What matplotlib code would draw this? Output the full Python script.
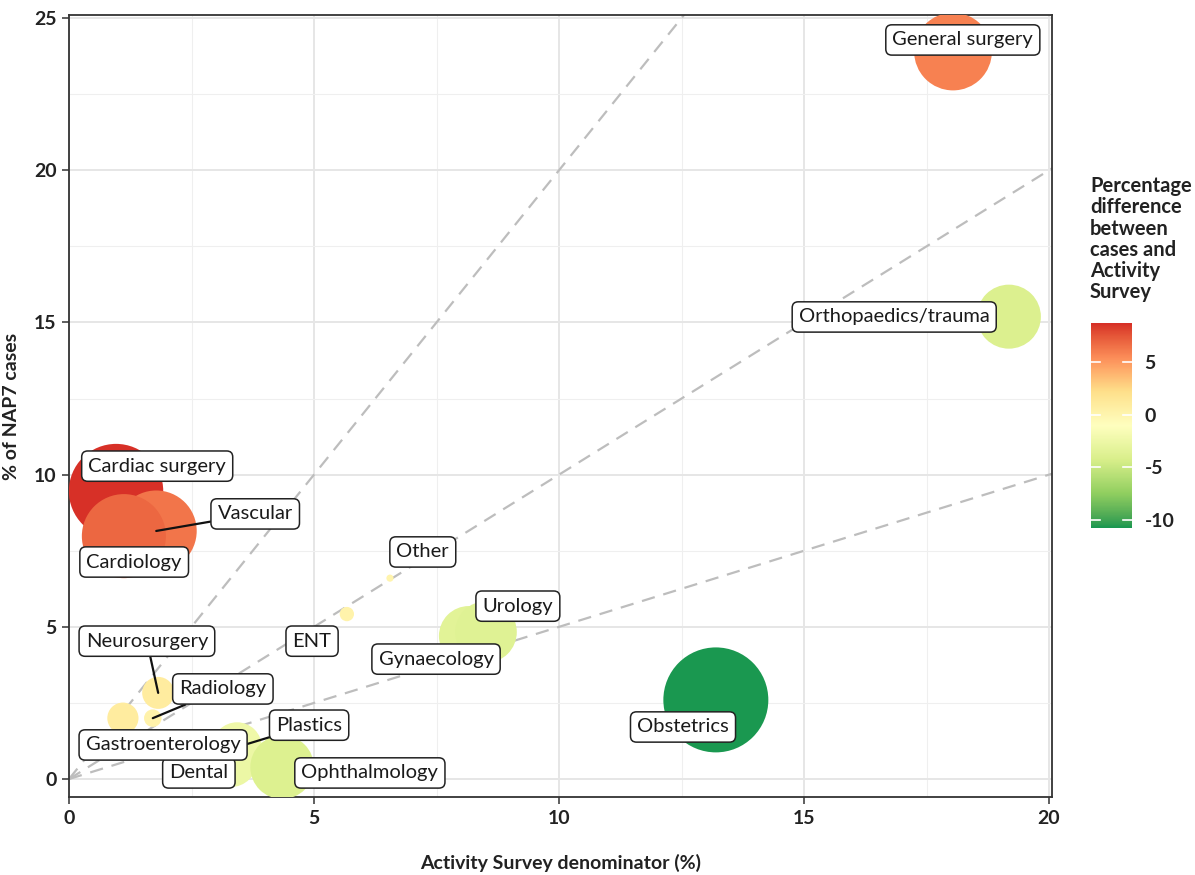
import numpy as np
import matplotlib
matplotlib.use("Agg")
import matplotlib.pyplot as plt
from matplotlib.colors import LinearSegmentedColormap, Normalize, to_rgb

plt.rcParams['font.family'] = ['Lato', 'DejaVu Sans']

# data
specialty = ["Obstetrics", "Cardiac surgery", "Vascular", "Cardiology", "General surgery",
             "Orthopaedics/trauma", "Gynaecology", "Urology", "Plastics", "Dental",
             "Ophthalmology", "Neurosurgery", "Gastroenterology", "Radiology", "ENT", "Other"]
activity_pct = [13.2, 0.96, 1.78, 1.12, 18.04, 19.18, 8.16, 8.51, 3.43, 3.30,
                4.35, 1.82, 1.10, 1.71, 5.67, 6.55]
nap7_pct = [2.6, 9.46, 8.15, 7.98, 23.9, 15.19, 4.70, 4.83, 1.05, 0.60,
            0.39, 2.83, 2.00, 2.00, 5.42, 6.60]
pct_diff = [-10.76, 8.7, 6.4, 6.9, 5.9, -4.0, -3.5, -3.7, -2.4, -2.7,
            -3.96, 1.0, 0.95, 0.3, 0.2, 0.05]
ref_slopes = [2, 1, 0.5]

# label placement (data coords) and which ones get a leader line
label_pos = {
    "General surgery": (18.24, 24.28), "Orthopaedics/trauma": (16.84, 15.18),
    "Cardiac surgery": (1.80, 10.28), "Vascular": (3.80, 8.71),
    "Cardiology": (1.33, 7.13), "Other": (7.22, 7.46), "ENT": (4.96, 4.53),
    "Urology": (9.16, 5.68), "Gynaecology": (7.49, 3.94),
    "Neurosurgery": (1.59, 4.53), "Radiology": (3.14, 2.96),
    "Gastroenterology": (1.92, 1.12), "Plastics": (4.90, 1.77),
    "Dental": (2.65, 0.20), "Ophthalmology": (6.14, 0.20), "Obstetrics": (12.53, 1.71),
}
with_segment = ["Vascular", "Neurosurgery", "Radiology", "Plastics"]

# brewer RdYlGn (7 class), low -> high
palette = ["#1a9850", "#91cf60", "#d9ef8b", "#ffffbf", "#fee08b", "#fc8d59", "#d73027"]

# interpolate the palette in Lab space, like ggplot does
WHITE = np.array([0.95047, 1.0, 1.08883])
M = np.array([[0.4124, 0.3576, 0.1805], [0.2126, 0.7152, 0.0722], [0.0193, 0.1192, 0.9505]])


def to_lab(c):
    rgb = np.array(to_rgb(c))
    lin = np.where(rgb <= 0.04045, rgb / 12.92, ((rgb + 0.055) / 1.055) ** 2.4)
    t = (M @ lin) / WHITE
    f = np.where(t > 0.008856, np.cbrt(t), 7.787 * t + 16 / 116)
    return np.array([116 * f[1] - 16, 500 * (f[0] - f[1]), 200 * (f[1] - f[2])])


def from_lab(lab):
    fy = (lab[0] + 16) / 116
    f = np.array([fy + lab[1] / 500, fy, fy - lab[2] / 200])
    t = np.where(f ** 3 > 0.008856, f ** 3, (f - 16 / 116) / 7.787) * WHITE
    lin = np.clip(np.linalg.inv(M) @ t, 0, 1)
    rgb = np.where(lin <= 0.0031308, 12.92 * lin, 1.055 * lin ** (1 / 2.4) - 0.055)
    return np.clip(rgb, 0, 1)


labs = [to_lab(c) for c in palette]
cols = []
for t in np.linspace(0, 1, 300):
    k = min(int(t * 6), 5)
    frac = t * 6 - k
    cols.append(from_lab(labs[k] + (labs[k + 1] - labs[k]) * frac))
cmap = LinearSegmentedColormap.from_list("diff", cols)
vmin, vmax = min(pct_diff), max(pct_diff)
norm = Normalize(vmin=vmin, vmax=vmax)

fig = plt.figure(figsize=(11.95, 8.75), dpi=100)
ax = fig.add_axes([69 / 1195, 1 - 797 / 875, (1052 - 69) / 1195, (797 - 15) / 875])

xs = np.array([0, 21])
for s in ref_slopes:
    ax.plot(xs, s * xs, color="#bdbdbd", lw=1.6, dashes=(6, 4), zorder=2)

sizes = 531 * np.abs(np.array(pct_diff))
ax.scatter(activity_pct, nap7_pct, s=sizes, c=cmap(norm(np.array(pct_diff))),
           linewidths=0, zorder=3)

for i, name in enumerate(specialty):
    lx, ly = label_pos[name]
    arrow = None
    if name in with_segment:
        arrow = dict(arrowstyle="-", color="#111111", lw=1.6, shrinkA=0, shrinkB=0)
    ax.annotate(name, xy=(activity_pct[i], nap7_pct[i]), xytext=(lx, ly),
                ha="center", va="center", fontsize=14.5, color="#1a1a1a",
                bbox=dict(boxstyle="round,pad=0.33,rounding_size=0.3", fc="white",
                          ec="#222222", lw=1.1),
                arrowprops=arrow, zorder=5)

ax.set_xlim(0, 20.06)
ax.set_ylim(-0.59, 25.1)
ax.set_xticks([0, 5, 10, 15, 20])
ax.set_yticks([0, 5, 10, 15, 20, 25])
ax.set_xticks([2.5, 7.5, 12.5, 17.5], minor=True)
ax.set_yticks([2.5, 7.5, 12.5, 17.5, 22.5], minor=True)
ax.grid(which="major", color="#e6e6e6", lw=1.4, zorder=0)
ax.grid(which="minor", color="#efefef", lw=0.8, zorder=0)
ax.set_axisbelow(True)
ax.tick_params(which="minor", length=0)
ax.tick_params(which="major", length=5, width=1.1, color="#333333",
               labelsize=14, labelcolor="#222222", pad=4)
for lab in ax.get_xticklabels() + ax.get_yticklabels():
    lab.set_fontweight("bold")
for sp in ax.spines.values():
    sp.set_color("#333333")
    sp.set_linewidth(1.3)

ax.set_xlabel("Activity Survey denominator (%)", fontsize=14, fontweight="bold",
              color="#222222", labelpad=20)
ax.set_ylabel("% of NAP7 cases", fontsize=14, fontweight="bold", color="#222222",
              labelpad=10)

# colour bar
cax = fig.add_axes([1091 / 1195, 1 - 528 / 875, 41 / 1195, 205 / 875])
grad = np.linspace(vmax, vmin, 300).reshape(-1, 1)
cax.imshow(cmap(norm(grad)), aspect="auto", extent=(0, 1, vmin, vmax))
cax.set_xlim(0, 1)
cax.set_ylim(vmin, vmax)
for v in [-10, -5, 0, 5]:
    cax.plot([0, 0.22], [v, v], color="white", lw=1.2)
    cax.plot([0.78, 1], [v, v], color="white", lw=1.2)
cax.set_xticks([])
cax.yaxis.tick_right()
cax.set_yticks([-10, -5, 0, 5])
cax.set_yticklabels(["-10", "-5", "0", "5"])
cax.tick_params(axis="y", length=0, labelsize=14, labelcolor="#222222", pad=9)
for lab in cax.get_yticklabels():
    lab.set_fontweight("bold")
for sp in cax.spines.values():
    sp.set_visible(False)

fig.text(1090 / 1195, 1 - 176 / 875,
         "Percentage\ndifference\nbetween\ncases and\nActivity\nSurvey",
         ha="left", va="top", fontsize=14.5, fontweight="bold", color="#222222",
         linespacing=1.08)

fig.savefig("out.png", dpi=100)
